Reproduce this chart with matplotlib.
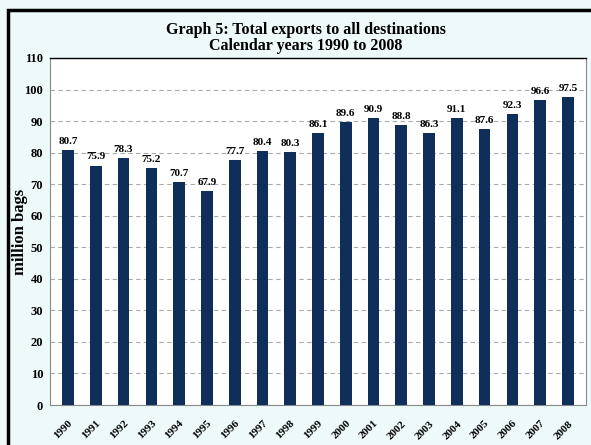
import matplotlib.pyplot as plt
from matplotlib.patches import Rectangle

years = ['1990', '1991', '1992', '1993', '1994', '1995', '1996', '1997', '1998', '1999',
         '2000', '2001', '2002', '2003', '2004', '2005', '2006', '2007', '2008']
exports = [80.7, 75.9, 78.3, 75.2, 70.7, 67.9, 77.7, 80.4, 80.3, 86.1,
           89.6, 90.9, 88.8, 86.3, 91.1, 87.6, 92.3, 96.6, 97.5]
yticks = [0, 10, 20, 30, 40, 50, 60, 70, 80, 90, 100, 110]

plt.rcParams['font.family'] = ['Liberation Serif', 'DejaVu Serif']
plt.rcParams['font.weight'] = 'bold'

fig = plt.figure(figsize=(5.91, 4.45), dpi=100, facecolor='#eefafa')
# outer frame
fig.patches.append(Rectangle((8/591, -0.05), 1.0, 1 - 10/445 + 0.05, transform=fig.transFigure,
                             fill=False, edgecolor='black', linewidth=2.5))

ax = fig.add_axes([50/591, 1 - 405/445, 536/591, 347/445])
ax.set_facecolor('white')
x = range(len(years))
ax.bar(x, exports, width=0.42, color='#102e5a', zorder=3)
for i, v in enumerate(exports):
    ax.text(i, v + 1.3, f'{v:.1f}', ha='center', va='bottom', fontsize=8, fontweight='bold', zorder=4)

ax.set_ylim(0, 110)
ax.set_xlim(-0.65, len(years) - 0.35)
ax.set_yticks(yticks)
ax.yaxis.grid(True, linestyle=(0, (4, 3)), color='#aaaaaa', linewidth=0.8, zorder=0)
ax.set_xticks(list(x))
ax.set_xticklabels(years, rotation=45, ha='right', rotation_mode='anchor', fontsize=8, fontweight='bold')
ax.tick_params(axis='x', length=0, pad=10)
ax.tick_params(axis='y', length=0, pad=5, labelsize=9)
ax.spines['left'].set_color('#888888')
ax.spines['bottom'].set_color('#888888')
ax.spines['right'].set_color('#888888')
ax.spines['top'].set_color('black')
ax.spines['top'].set_linewidth(1.0)
ax.set_ylabel('million bags', fontsize=12, fontweight='bold')
ax.yaxis.set_label_coords(-22/536, 0.5)

fig.text(0.5 + 10/591, 1 - 38/445, 'Graph 5: Total exports to all destinations\nCalendar years 1990 to 2008',
         ha='center', va='center', fontsize=11.5, fontweight='bold', linespacing=1.05)

plt.savefig('out.png', dpi=100, facecolor=fig.get_facecolor())
